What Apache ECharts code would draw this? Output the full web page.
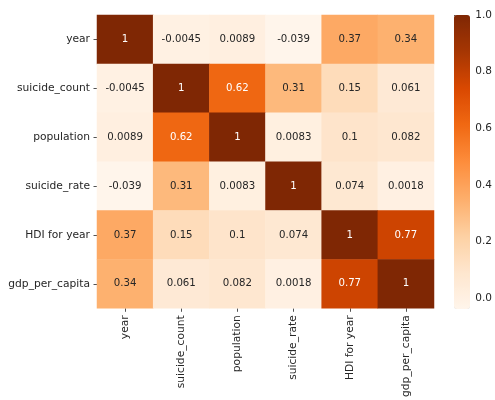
<!DOCTYPE html>
<html>
<head>
<meta charset="utf-8">
<style>
  html, body { margin: 0; padding: 0; background: #fff; }
  #chart { width: 495px; height: 400px; }
</style>
<script src="https://cdn.jsdelivr.net/npm/echarts@6/dist/echarts.min.js"></script>
</head>
<body>
<div id="chart"></div>
<script>
// Correlation matrix of the suicide-statistics columns
const variables = ['year', 'suicide_count', 'population', 'suicide_rate', 'HDI for year', 'gdp_per_capita'];

const corrYear         = [1, -0.0045, 0.0089, -0.039, 0.37, 0.34];
const corrSuicideCount = [-0.0045, 1, 0.62, 0.31, 0.15, 0.061];
const corrPopulation   = [0.0089, 0.62, 1, 0.0083, 0.1, 0.082];
const corrSuicideRate  = [-0.039, 0.31, 0.0083, 1, 0.074, 0.0018];
const corrHdi          = [0.37, 0.15, 0.1, 0.074, 1, 0.77];
const corrGdp          = [0.34, 0.061, 0.082, 0.0018, 0.77, 1];

const colorbarTicks = [0.0, 0.2, 0.4, 0.6, 0.8, 1.0];

const rows = [corrYear, corrSuicideCount, corrPopulation, corrSuicideRate, corrHdi, corrGdp];

// Colour range spans the data, like seaborn's default vmin/vmax
const allValues = rows.flat();
const vmin = Math.min(...allValues);
const vmax = Math.max(...allValues);

// matplotlib "Oranges" colormap
const oranges = ['#fff5eb', '#fee6ce', '#fdd0a2', '#fdae6b', '#fd8d3c', '#f16913', '#d94801', '#a63603', '#7f2704'];

const cells = [];
rows.forEach((row, r) => {
  row.forEach((v, c) => {
    const frac = (v - vmin) / (vmax - vmin);
    cells.push({
      value: [c, r, v],
      label: { color: frac > 0.55 ? '#ffffff' : '#262626' }
    });
  });
});

const FONT = 'DejaVu Sans';
const gridL = 97, gridT = 15, gridW = 337, gridH = 294;
const cbL = 454, cbW = 16;

const chart = echarts.init(document.getElementById('chart'), null, { renderer: 'canvas' });
chart.setOption({
  animation: false,
  backgroundColor: '#ffffff',
  textStyle: { fontFamily: FONT },
  grid: [
    { left: gridL, top: gridT, width: gridW, height: gridH },
    { left: cbL, top: gridT, width: cbW, height: gridH }
  ],
  xAxis: [
    {
      type: 'category', data: variables, gridIndex: 0,
      axisLine: { show: false },
      axisTick: { show: true, alignWithLabel: true, length: 3.5, lineStyle: { color: '#262626', width: 0.8 } },
      axisLabel: { rotate: 90, fontFamily: FONT, fontSize: 10.7, color: '#262626', margin: 7, interval: 0 },
      splitLine: { show: false }
    },
    {
      type: 'value', gridIndex: 1, show: false, min: 0, max: 1
    }
  ],
  yAxis: [
    {
      type: 'category', data: variables, gridIndex: 0, inverse: true,
      axisLine: { show: false },
      axisTick: { show: true, alignWithLabel: true, length: 3.5, lineStyle: { color: '#262626', width: 0.8 } },
      axisLabel: { fontFamily: FONT, fontSize: 10.7, color: '#262626', margin: 7, interval: 0 },
      splitLine: { show: false }
    },
    {
      type: 'value', gridIndex: 1, position: 'right', min: vmin, max: vmax,
      axisLine: { show: false },
      axisTick: { show: true, length: 3.5, customValues: colorbarTicks, lineStyle: { color: '#262626', width: 0.8 } },
      axisLabel: {
        show: true, customValues: colorbarTicks, fontFamily: FONT, fontSize: 10.5, color: '#262626', margin: 7,
        formatter: v => v.toFixed(1)
      },
      splitLine: { show: false }
    }
  ],
  visualMap: {
    type: 'continuous',
    min: vmin, max: vmax,
    seriesIndex: 0,
    orient: 'vertical',
    left: cbL, top: gridT,
    itemWidth: cbW, itemHeight: gridH,
    padding: 0,
    text: null,
    showLabel: false,
    calculable: false,
    inRange: { color: oranges }
  },
  series: [
    {
      type: 'heatmap',
      xAxisIndex: 0, yAxisIndex: 0,
      data: cells,
      label: {
        show: true, fontFamily: FONT, fontSize: 10.2,
        formatter: p => String(p.value[2])
      },
      itemStyle: { borderWidth: 0 },
      emphasis: { disabled: true }
    },
    {
      type: 'scatter', xAxisIndex: 1, yAxisIndex: 1, data: [], silent: true
    }
  ]
});
</script>
</body>
</html>
